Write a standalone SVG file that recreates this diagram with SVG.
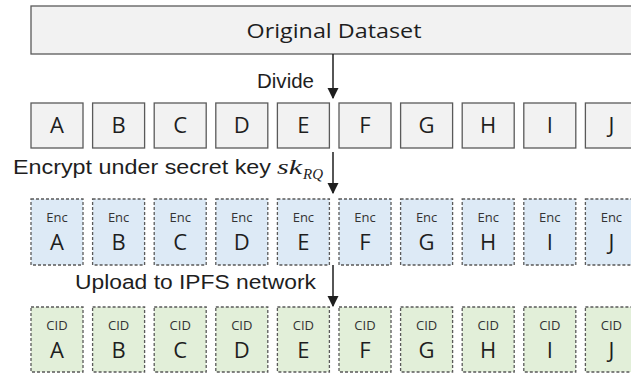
<svg xmlns="http://www.w3.org/2000/svg" width="631" height="375" viewBox="0 0 631 375">
  <style>
    .plain { fill: #f2f2f2; stroke: #5a5a5a; stroke-width: 1.3; }
    .enc { fill: #ddeaf6; stroke: #5a5a5a; stroke-width: 1.3; stroke-dasharray: 3 2; }
    .cid { fill: #e2efd9; stroke: #5a5a5a; stroke-width: 1.3; stroke-dasharray: 3 2; }
    .cal { font-family: "Open Sans", "Noto Sans", sans-serif; fill: #1e1e1e; text-anchor: middle; }
    .big { font-size: 22px; }
    .tag { font-size: 13px; fill: #333; }
    .lbl { font-family: "Liberation Sans", Arial, sans-serif; font-size: 20px; fill: #1e1e1e; }
    .math { font-family: "Liberation Serif", "DejaVu Serif", serif; font-style: italic; fill: #1e1e1e; }
    .conn { stroke: #1e1e1e; stroke-width: 1.5; fill: none; marker-end: url(#head); }
  </style>
  <defs>
    <marker id="head" viewBox="0 0 10 10" refX="9" refY="5" markerUnits="userSpaceOnUse" markerWidth="11" markerHeight="12" orient="auto">
      <path d="M0,0 L10,5 L0,10 z" fill="#1e1e1e"/>
    </marker>
  </defs>

  <rect width="631" height="375" fill="#ffffff"/>

  <!-- source dataset -->
  <g id="dataset">
    <rect class="plain" x="31" y="6" width="620" height="48"/>
    <text class="cal" x="334" y="38" font-size="20" textLength="175" lengthAdjust="spacingAndGlyphs">Original Dataset</text>
  </g>

  <!-- plain chunks -->
  <g id="chunk-A"><rect class="plain" x="31" y="103" width="52" height="45"/><text class="cal big" x="57" y="133">A</text></g>
  <g id="chunk-B"><rect class="plain" x="92.6" y="103" width="52" height="45"/><text class="cal big" x="118.6" y="133">B</text></g>
  <g id="chunk-C"><rect class="plain" x="154.2" y="103" width="52" height="45"/><text class="cal big" x="180.2" y="133">C</text></g>
  <g id="chunk-D"><rect class="plain" x="215.8" y="103" width="52" height="45"/><text class="cal big" x="241.8" y="133">D</text></g>
  <g id="chunk-E"><rect class="plain" x="277.4" y="103" width="52" height="45"/><text class="cal big" x="303.4" y="133">E</text></g>
  <g id="chunk-F"><rect class="plain" x="339" y="103" width="52" height="45"/><text class="cal big" x="365" y="133">F</text></g>
  <g id="chunk-G"><rect class="plain" x="400.6" y="103" width="52" height="45"/><text class="cal big" x="426.6" y="133">G</text></g>
  <g id="chunk-H"><rect class="plain" x="462.2" y="103" width="52" height="45"/><text class="cal big" x="488.2" y="133">H</text></g>
  <g id="chunk-I"><rect class="plain" x="523.8" y="103" width="52" height="45"/><text class="cal big" x="549.8" y="133">I</text></g>
  <g id="chunk-J"><rect class="plain" x="585.4" y="103" width="52" height="45"/><text class="cal big" x="611.4" y="133">J</text></g>

  <!-- encrypted chunks -->
  <g id="enc-A"><rect class="enc" x="31" y="199" width="52" height="66"/><text class="cal tag" x="57" y="222">Enc</text><text class="cal big" x="57" y="250">A</text></g>
  <g id="enc-B"><rect class="enc" x="92.6" y="199" width="52" height="66"/><text class="cal tag" x="118.6" y="222">Enc</text><text class="cal big" x="118.6" y="250">B</text></g>
  <g id="enc-C"><rect class="enc" x="154.2" y="199" width="52" height="66"/><text class="cal tag" x="180.2" y="222">Enc</text><text class="cal big" x="180.2" y="250">C</text></g>
  <g id="enc-D"><rect class="enc" x="215.8" y="199" width="52" height="66"/><text class="cal tag" x="241.8" y="222">Enc</text><text class="cal big" x="241.8" y="250">D</text></g>
  <g id="enc-E"><rect class="enc" x="277.4" y="199" width="52" height="66"/><text class="cal tag" x="303.4" y="222">Enc</text><text class="cal big" x="303.4" y="250">E</text></g>
  <g id="enc-F"><rect class="enc" x="339" y="199" width="52" height="66"/><text class="cal tag" x="365" y="222">Enc</text><text class="cal big" x="365" y="250">F</text></g>
  <g id="enc-G"><rect class="enc" x="400.6" y="199" width="52" height="66"/><text class="cal tag" x="426.6" y="222">Enc</text><text class="cal big" x="426.6" y="250">G</text></g>
  <g id="enc-H"><rect class="enc" x="462.2" y="199" width="52" height="66"/><text class="cal tag" x="488.2" y="222">Enc</text><text class="cal big" x="488.2" y="250">H</text></g>
  <g id="enc-I"><rect class="enc" x="523.8" y="199" width="52" height="66"/><text class="cal tag" x="549.8" y="222">Enc</text><text class="cal big" x="549.8" y="250">I</text></g>
  <g id="enc-J"><rect class="enc" x="585.4" y="199" width="52" height="66"/><text class="cal tag" x="611.4" y="222">Enc</text><text class="cal big" x="611.4" y="250">J</text></g>

  <!-- content identifiers -->
  <g id="cid-A"><rect class="cid" x="31" y="307" width="52" height="65"/><text class="cal tag" x="57" y="330">CID</text><text class="cal big" x="57" y="358">A</text></g>
  <g id="cid-B"><rect class="cid" x="92.6" y="307" width="52" height="65"/><text class="cal tag" x="118.6" y="330">CID</text><text class="cal big" x="118.6" y="358">B</text></g>
  <g id="cid-C"><rect class="cid" x="154.2" y="307" width="52" height="65"/><text class="cal tag" x="180.2" y="330">CID</text><text class="cal big" x="180.2" y="358">C</text></g>
  <g id="cid-D"><rect class="cid" x="215.8" y="307" width="52" height="65"/><text class="cal tag" x="241.8" y="330">CID</text><text class="cal big" x="241.8" y="358">D</text></g>
  <g id="cid-E"><rect class="cid" x="277.4" y="307" width="52" height="65"/><text class="cal tag" x="303.4" y="330">CID</text><text class="cal big" x="303.4" y="358">E</text></g>
  <g id="cid-F"><rect class="cid" x="339" y="307" width="52" height="65"/><text class="cal tag" x="365" y="330">CID</text><text class="cal big" x="365" y="358">F</text></g>
  <g id="cid-G"><rect class="cid" x="400.6" y="307" width="52" height="65"/><text class="cal tag" x="426.6" y="330">CID</text><text class="cal big" x="426.6" y="358">G</text></g>
  <g id="cid-H"><rect class="cid" x="462.2" y="307" width="52" height="65"/><text class="cal tag" x="488.2" y="330">CID</text><text class="cal big" x="488.2" y="358">H</text></g>
  <g id="cid-I"><rect class="cid" x="523.8" y="307" width="52" height="65"/><text class="cal tag" x="549.8" y="330">CID</text><text class="cal big" x="549.8" y="358">I</text></g>
  <g id="cid-J"><rect class="cid" x="585.4" y="307" width="52" height="65"/><text class="cal tag" x="611.4" y="330">CID</text><text class="cal big" x="611.4" y="358">J</text></g>

  <!-- step arrows -->
  <g id="connectors">
    <line class="conn" x1="333" y1="54" x2="333" y2="98"/>
    <line class="conn" x1="333" y1="152" x2="333" y2="193"/>
    <line class="conn" x1="333" y1="265" x2="333" y2="306"/>
  </g>

  <!-- step labels -->
  <g id="labels">
    <text class="lbl" x="257" y="88" textLength="57" lengthAdjust="spacingAndGlyphs">Divide</text>
    <text class="lbl" x="13" y="174" textLength="258" lengthAdjust="spacingAndGlyphs">Encrypt under secret key</text>
    <text class="math" x="277" y="174" font-size="22" textLength="25" lengthAdjust="spacingAndGlyphs">sk</text>
    <text class="math" x="303" y="179" font-size="14" textLength="20" lengthAdjust="spacingAndGlyphs">RQ</text>
    <text class="lbl" x="75" y="289" font-size="21" textLength="241" lengthAdjust="spacingAndGlyphs">Upload to IPFS network</text>
  </g>
</svg>
